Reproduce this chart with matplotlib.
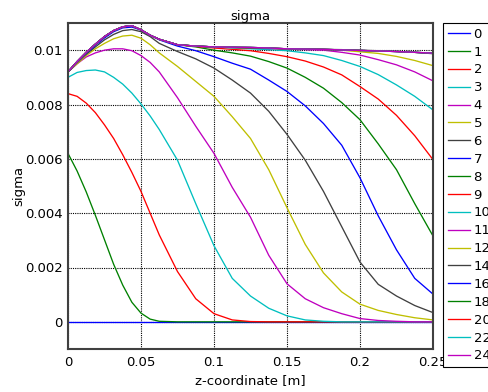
import matplotlib
matplotlib.use("Agg")
import matplotlib.pyplot as plt
import numpy as np

z = [0, 0.00625, 0.0125, 0.01875, 0.025, 0.03125, 0.0375, 0.04375, 0.05, 0.05625,
     0.0625, 0.075, 0.0875, 0.1, 0.1125, 0.125, 0.1375, 0.15, 0.1625, 0.175,
     0.1875, 0.2, 0.2125, 0.225, 0.2375, 0.25]

labels = ["0", "1", "2", "3", "4", "5", "6", "7", "8", "9", "10", "11", "12",
          "14", "16", "18", "20", "22", "24"]

# values in units of 1e-3
s0 = [0] * 26
s1 = [6.2, 5.55, 4.78, 3.92, 3.02, 2.12, 1.35, 0.72, 0.32, 0.1, 0.02, 0, 0, 0, 0, 0, 0, 0, 0, 0, 0, 0, 0, 0, 0, 0]
s2 = [8.4, 8.3, 8.05, 7.7, 7.25, 6.75, 6.15, 5.5, 4.8, 4.0, 3.2, 1.85, 0.85, 0.3, 0.07, 0.01, 0, 0, 0, 0, 0, 0, 0, 0, 0, 0]
s3 = [9.0, 9.18, 9.25, 9.27, 9.2, 9.0, 8.75, 8.42, 8.02, 7.58, 7.08, 5.95, 4.35, 2.8, 1.6, 0.95, 0.5, 0.22, 0.07, 0.02, 0, 0, 0, 0, 0, 0]
s4 = [9.2, 9.5, 9.75, 9.9, 10.0, 10.05, 10.05, 9.98, 9.8, 9.55, 9.2, 8.25, 7.2, 6.2, 4.95, 3.85, 2.45, 1.4, 0.85, 0.52, 0.3, 0.12, 0.05, 0.02, 0, 0]
s5 = [9.2, 9.5, 9.8, 10.05, 10.25, 10.42, 10.52, 10.55, 10.44, 10.2, 9.9, 9.4, 8.85, 8.3, 7.55, 6.75, 5.6, 4.2, 2.85, 1.8, 1.1, 0.65, 0.42, 0.27, 0.15, 0.07]
s6 = [9.2, 9.55, 9.85, 10.12, 10.38, 10.58, 10.72, 10.76, 10.68, 10.5, 10.25, 9.95, 9.68, 9.34, 8.9, 8.42, 7.75, 6.9, 5.95, 4.8, 3.5, 2.2, 1.38, 0.95, 0.6, 0.34]
s7 = [9.2, 9.55, 9.88, 10.18, 10.45, 10.68, 10.82, 10.85, 10.74, 10.55, 10.38, 10.15, 9.98, 9.76, 9.52, 9.3, 8.9, 8.48, 7.95, 7.3, 6.5, 5.3, 3.9, 2.65, 1.6, 1.02]
s8 = [9.2, 9.58, 9.92, 10.22, 10.5, 10.72, 10.86, 10.9, 10.75, 10.55, 10.4, 10.2, 10.12, 10.0, 9.9, 9.78, 9.58, 9.34, 9.0, 8.6, 8.07, 7.44, 6.55, 5.6, 4.35, 3.16]
s9 = [9.2, 9.58, 9.92, 10.22, 10.5, 10.72, 10.86, 10.9, 10.75, 10.55, 10.4, 10.2, 10.14, 10.08, 10.03, 9.98, 9.88, 9.76, 9.6, 9.38, 9.09, 8.66, 8.2, 7.6, 6.85, 5.97]
s10 = [9.2, 9.58, 9.92, 10.22, 10.5, 10.72, 10.86, 10.9, 10.75, 10.55, 10.4, 10.2, 10.15, 10.12, 10.08, 10.05, 10.02, 9.98, 9.9, 9.8, 9.62, 9.4, 9.1, 8.72, 8.3, 7.8]
s11 = [9.2, 9.58, 9.92, 10.22, 10.5, 10.72, 10.86, 10.9, 10.75, 10.55, 10.4, 10.2, 10.15, 10.12, 10.1, 10.08, 10.06, 10.04, 10.02, 10.0, 9.92, 9.82, 9.65, 9.46, 9.2, 8.87]
s12 = [9.2, 9.58, 9.92, 10.22, 10.5, 10.72, 10.86, 10.9, 10.75, 10.55, 10.4, 10.2, 10.15, 10.12, 10.1, 10.08, 10.07, 10.05, 10.04, 10.03, 10.0, 9.94, 9.88, 9.77, 9.62, 9.43]
s14 = [9.2, 9.58, 9.92, 10.22, 10.5, 10.72, 10.86, 10.9, 10.75, 10.55, 10.4, 10.2, 10.15, 10.12, 10.1, 10.08, 10.07, 10.05, 10.04, 10.03, 10.02, 10.0, 9.98, 9.95, 9.92, 9.87]
s16 = [9.2, 9.58, 9.92, 10.22, 10.5, 10.72, 10.86, 10.9, 10.75, 10.55, 10.4, 10.2, 10.15, 10.12, 10.11, 10.1, 10.08, 10.05, 10.04, 10.03, 10.01, 9.99, 9.97, 9.95, 9.92, 9.89]
s18 = [9.2, 9.58, 9.92, 10.22, 10.5, 10.72, 10.86, 10.9, 10.75, 10.55, 10.4, 10.2, 10.15, 10.12, 10.11, 10.1, 10.08, 10.05, 10.04, 10.03, 10.01, 9.99, 9.97, 9.95, 9.92, 9.89]
s20 = [9.2, 9.58, 9.92, 10.22, 10.5, 10.72, 10.86, 10.9, 10.75, 10.55, 10.4, 10.2, 10.15, 10.12, 10.11, 10.1, 10.08, 10.05, 10.04, 10.03, 10.01, 9.99, 9.97, 9.95, 9.92, 9.89]
s22 = [9.2, 9.58, 9.92, 10.22, 10.5, 10.72, 10.86, 10.9, 10.75, 10.55, 10.4, 10.2, 10.15, 10.12, 10.11, 10.1, 10.08, 10.05, 10.04, 10.03, 10.01, 9.99, 9.97, 9.95, 9.92, 9.89]
s24 = [9.2, 9.58, 9.92, 10.22, 10.5, 10.72, 10.86, 10.9, 10.75, 10.55, 10.4, 10.2, 10.15, 10.12, 10.11, 10.1, 10.08, 10.05, 10.04, 10.03, 10.01, 9.99, 9.97, 9.95, 9.92, 9.89]

series = [s0, s1, s2, s3, s4, s5, s6, s7, s8, s9, s10, s11, s12, s14, s16, s18, s20, s22, s24]

colors = [(0, 0, 1), (0, 0.5, 0), (1, 0, 0), (0, 0.75, 0.75), (0.75, 0, 0.75),
          (0.75, 0.75, 0), (0.25, 0.25, 0.25)]

xticks = [0, 0.05, 0.1, 0.15, 0.2, 0.25]
xticklabels = ["0", "0.05", "0.1", "0.15", "0.2", "0.25"]
yticks = [0, 0.002, 0.004, 0.006, 0.008, 0.01]
yticklabels = ["0", "0.002", "0.004", "0.006", "0.008", "0.01"]

W, H = 489, 392
fig = plt.figure(figsize=(W / 100, H / 100), dpi=100)
ax = fig.add_axes([68 / W, 1 - 349 / H, (433 - 68) / W, (349 - 23) / H])

fs = 9.5
handles = []
for i, (s, lab) in enumerate(zip(series, labels)):
    h, = ax.plot(z, np.array(s) * 1e-3, color=colors[i % 7], lw=0.95, label=lab)
    handles.append(h)

ax.set_xlim(0, 0.25)
ax.set_ylim(-0.001, 0.011)
ax.set_xticks(xticks)
ax.set_xticklabels(xticklabels, fontsize=fs)
ax.set_yticks(yticks)
ax.set_yticklabels(yticklabels, fontsize=fs)
ax.tick_params(length=0)
ax.tick_params(axis="y", pad=3.8)
ax.tick_params(axis="x", pad=5)
ax.grid(True, color="black", linestyle=(0, (1, 1)), linewidth=0.8)
for sp in ax.spines.values():
    sp.set_color("#404040")
    sp.set_linewidth(1.5)

ax.set_title("sigma", fontsize=fs, pad=0.5)
ax.set_xlabel("z-coordinate [m]", fontsize=fs, labelpad=4)
ax.set_ylabel("sigma", fontsize=fs)
ax.yaxis.set_label_coords(-0.118, 0.5)

leg = fig.legend(handles=handles, loc="upper left",
                 bbox_to_anchor=(443 / W, 1 - 23 / H), bbox_transform=fig.transFigure,
                 fontsize=fs, frameon=True, fancybox=False, edgecolor="black",
                 framealpha=1, borderpad=0.35, labelspacing=0.37, handlelength=1.67,
                 handletextpad=0.3, borderaxespad=0)
leg.get_frame().set_linewidth(0.8)

fig.savefig("out.png", dpi=100)
